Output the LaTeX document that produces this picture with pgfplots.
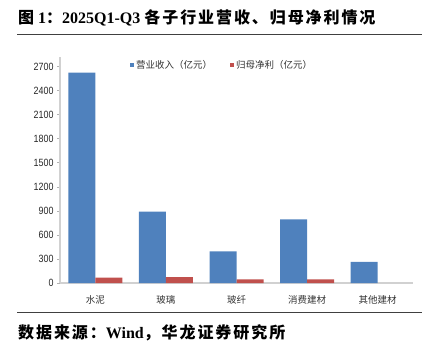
\documentclass[border=0pt]{standalone}
\usepackage{pgfplots}
\pgfplotsset{compat=1.18}
\usepackage{fontspec}
\setmainfont{Liberation Serif}
\newfontfamily\cjk{Noto Sans CJK SC}
\newfontfamily\cjkt[LetterSpace=12]{Noto Sans CJK SC}
\newfontfamily\narrow[FakeStretch=0.85]{Liberation Sans}
\definecolor{bblue}{HTML}{4F81BD}
\definecolor{bred}{HTML}{C0504D}
\begin{document}
\begin{tikzpicture}
\path[use as bounding box] (0pt,0pt) rectangle (422pt,-352pt);
\draw[line width=1pt, black!75] (17pt,-35pt) -- (422pt,-35pt);
\draw[line width=1pt, black!75] (17pt,-312pt) -- (422pt,-312pt);
\node[anchor=west, inner sep=0pt] at (18pt,-17.5pt) {\fontsize{16}{18}\selectfont\bfseries{\cjkt 图} 1{\cjkt ：}2025Q1-Q3 {\cjkt 各子行业营收、归母净利情况}};
\node[anchor=west, inner sep=0pt] at (18pt,-333pt) {\fontsize{16}{18}\selectfont\bfseries{\cjkt 数据来源：}Wind{\cjkt ，华龙证券研究所}};
\begin{axis}[
  at={(60pt,-283pt)}, anchor=south west,
  scale only axis, width=353pt, height=226pt,
  xmin=-0.5, xmax=4.5, ymin=0, ymax=2820,
  ybar=0pt, bar width=27pt,
  axis x line=bottom, axis y line=left,
  axis line style={draw=black!18, line width=1.2pt, -},
  xtick={0,1,2,3,4},
  xticklabels={水泥,玻璃,玻纤,消费建材,其他建材},
  x tick label style={font=\cjk\fontsize{9.5}{11}\selectfont, text=black!80, yshift=-6pt},
  x tick style={draw=none},
  ytick={0,300,...,2700},
  y tick label style={font=\narrow\fontsize{10.5}{12}\selectfont, text=black!85},
  /pgf/number format/assume math mode=true,
  /pgf/number format/1000 sep={},
  y tick style={draw=black!30, line width=0.6pt},
  major tick length=3pt,
  tick align=outside,
  legend style={at={(rel axis cs:0.198,0.965)}, anchor=west, draw=none, fill=none,
    legend columns=2, font=\cjk\fontsize{9.5}{11}\selectfont, text=black!80,
    inner sep=0pt, /tikz/every even column/.append style={column sep=16pt}},
  legend image code/.code={\draw[#1,draw=none] (0pt,-2pt) rectangle (4pt,2pt);},
  legend cell align=left,
]
\addplot[fill=bblue, draw=none] coordinates {(0,2625) (1,890) (2,395) (3,795) (4,263)};
\addplot[fill=bred, draw=none] coordinates {(0,66) (1,74) (2,45) (3,45)};
\legend{营业收入（亿元）,归母净利（亿元）}
\end{axis}
\end{tikzpicture}
\end{document}
